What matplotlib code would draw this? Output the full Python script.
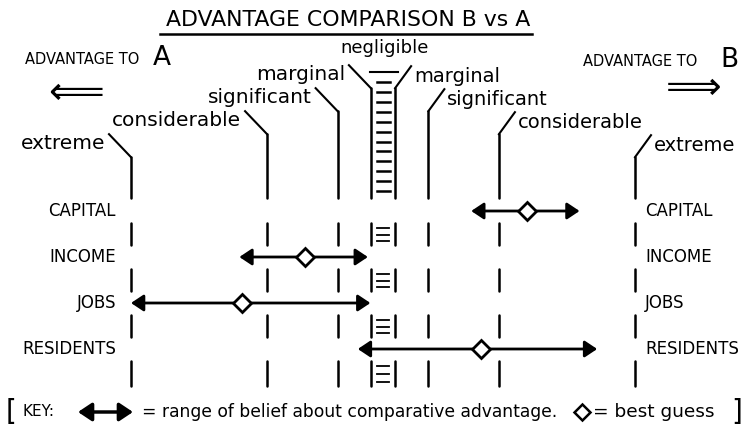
import numpy as np
import matplotlib.pyplot as plt
from matplotlib.patches import FancyArrowPatch

# comparison data, units: 0 = no advantage, -10 = extreme advantage to A, +10 = extreme to B
factors = ['CAPITAL', 'INCOME', 'JOBS', 'RESIDENTS']
low = [3.5, -5.7, -10.0, -1.0]
high = [7.8, -0.6, -0.5, 8.5]
best = [5.7, -3.1, -5.6, 3.9]

levels = ['extreme', 'considerable', 'significant', 'marginal']
bounds = [10.0, 4.6, 1.8, 0.48]

XS, YS = 25.2, 46.0   # pixels per data unit (x, y)
X0, Y0 = 383, 211     # pixel position of centre / first row

fig = plt.figure(figsize=(7.48, 4.38), dpi=100)
ax = fig.add_axes([0, 0, 1, 1])
ax.set_xlim(-X0 / XS, (748 - X0) / XS)
ax.set_ylim((438 - Y0) / YS, -Y0 / YS)
ax.axis('off')

lw = 1.8
head = '<|-|>,head_length=0.75,head_width=0.5'
line_top = [-1.17, -1.67, -2.17, -2.67]
dashes = [(0.26, 0.74), (1.26, 1.74), (2.26, 2.74), (3.26, 3.8)]

for k, (name, b) in enumerate(zip(levels, bounds)):
    top = line_top[k]
    for side in (-1, 1):
        x = side * b
        ax.plot([x, x], [top, -0.28], color='black', lw=lw, solid_capstyle='round')
        for y1, y2 in dashes:
            ax.plot([x, x], [y1, y2], color='black', lw=lw, solid_capstyle='round')
        # slash up to the label
        if side < 0:
            sx, sy = x - 22 / XS, top - 23 / YS
            ax.plot([sx, x], [sy, top], color='black', lw=1.5)
            ax.text(sx - 4 / XS, sy + 9 / YS, name, ha='right', va='center', fontsize=14.5)
        else:
            sx, sy = x + 16 / XS, top - 22 / YS
            ax.plot([x, sx], [top, sy], color='black', lw=1.5)
            ax.text(sx + 3 / XS, sy + 10 / YS, name, ha='left', va='center', fontsize=14)

# negligible band: funnel, ladder hatching
ax.plot([-0.52, 0.6], [-3.02, -3.02], color='black', lw=1.5)
ax.text(0.05, -3.55, 'negligible', ha='center', va='center', fontsize=13)
for y in np.arange(-2.8, -0.25, 0.215):
    ax.plot([-0.24, 0.28], [y, y], color='black', lw=1.8)
for y1, y2 in dashes:
    for y in np.linspace(y1 + 0.12, y2 - 0.08, 3):
        ax.plot([-0.22, 0.22], [y, y], color='black', lw=1.3)

# ranges and best guesses
for i, f in enumerate(factors):
    arr = FancyArrowPatch((low[i], i), (high[i], i), arrowstyle=head,
                          mutation_scale=10, color='black', lw=2.0, shrinkA=0, shrinkB=0)
    ax.add_patch(arr)
    ax.plot(best[i], i, marker='D', ms=9, mfc='white', mec='black', mew=2, zorder=5)
    ax.text(-10.6, i, f, ha='right', va='center', fontsize=12)
    ax.text(10.4, i, f, ha='left', va='center', fontsize=12)

# title and direction labels
fig.text(348 / 748, 1 - 20 / 438, 'ADVANTAGE COMPARISON B vs A', ha='center', va='center', fontsize=15.8)
fig.add_artist(plt.Line2D([160 / 748, 532 / 748], [1 - 34 / 438, 1 - 34 / 438], color='black', lw=1.8))
fig.text(25 / 748, 1 - 60 / 438, 'ADVANTAGE TO', ha='left', va='center', fontsize=10.5)
fig.text(153 / 748, 1 - 58 / 438, 'A', ha='left', va='center', fontsize=19)
fig.text(76 / 748, 1 - 93 / 438, '\u27f8', ha='center', va='center', fontsize=28)
fig.text(583 / 748, 1 - 62 / 438, 'ADVANTAGE TO', ha='left', va='center', fontsize=10.5)
fig.text(720 / 748, 1 - 60 / 438, 'B', ha='left', va='center', fontsize=19)
fig.text(694 / 748, 1 - 88 / 438, '\u27f9', ha='center', va='center', fontsize=28)

# key
ky = 1 - 412 / 438
fig.text(6 / 748, ky, '[', ha='left', va='center', fontsize=20)
fig.text(22 / 748, ky, 'KEY:', ha='left', va='center', fontsize=11)
fig.add_artist(FancyArrowPatch((78 / 748, ky), (133 / 748, ky), transform=fig.transFigure,
                               arrowstyle=head, mutation_scale=11, color='black', lw=2.5,
                               shrinkA=0, shrinkB=0))
fig.text(142 / 748, ky, '= range of belief about comparative advantage.', ha='left', va='center', fontsize=12.3)
fig.add_artist(plt.Line2D([582 / 748], [ky], marker='D', ms=8, mfc='white', mec='black', mew=1.8))
fig.text(593 / 748, ky, '= best guess', ha='left', va='center', fontsize=13.3)
fig.text(742 / 748, ky, ']', ha='right', va='center', fontsize=20)

fig.savefig('out.png', dpi=100)
